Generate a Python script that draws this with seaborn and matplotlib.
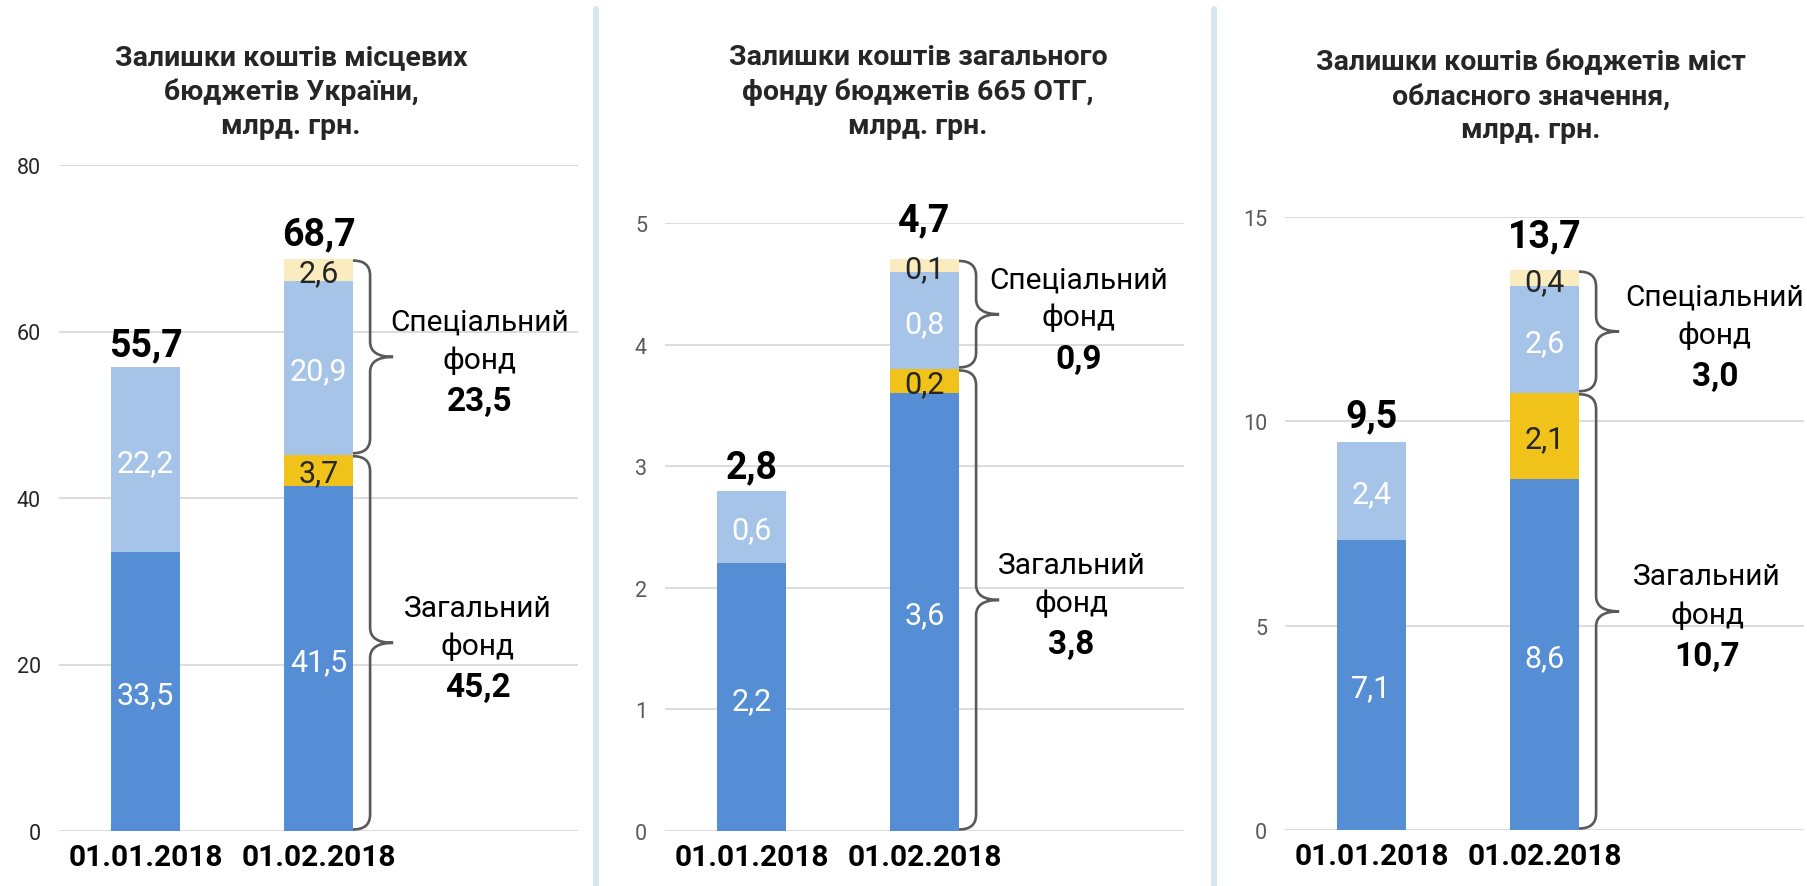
import matplotlib
matplotlib.use("Agg")
import matplotlib.pyplot as plt
import numpy as np
import seaborn as sns
from matplotlib.lines import Line2D
from matplotlib.patches import PathPatch
from matplotlib.path import Path

# Data (bln UAH); stack order bottom -> top:
# general fund, general fund increase, special fund, special fund increase
DATES = ["01.01.2018", "01.02.2018"]

TITLES = [
    "Залишки коштів місцевих\nбюджетів України,\nмлрд. грн.",
    "Залишки коштів загального\nфонду бюджетів 665 ОТГ,\nмлрд. грн.",
    "Залишки коштів бюджетів міст\nобласного значення,\nмлрд. грн.",
]

UA_GENERAL = [33.5, 41.5]
UA_GENERAL_UP = [0.0, 3.7]
UA_SPECIAL = [22.2, 20.9]
UA_SPECIAL_UP = [0.0, 2.6]
UA_TOTALS = [55.7, 68.7]
UA_FUNDS = [23.5, 45.2]  # special, general on 01.02

OTG_GENERAL = [2.2, 3.6]
OTG_GENERAL_UP = [0.0, 0.2]
OTG_SPECIAL = [0.6, 0.8]
OTG_SPECIAL_UP = [0.0, 0.1]
OTG_TOTALS = [2.8, 4.7]
OTG_FUNDS = [0.9, 3.8]

CITY_GENERAL = [7.1, 8.6]
CITY_GENERAL_UP = [0.0, 2.1]
CITY_SPECIAL = [2.4, 2.6]
CITY_SPECIAL_UP = [0.0, 0.4]
CITY_TOTALS = [9.5, 13.7]
CITY_FUNDS = [3.0, 10.7]

Y_TICKS = [[0, 20, 40, 60, 80], [0, 1, 2, 3, 4, 5], [0, 5, 10, 15]]

# Style
W, H = 1808, 887
SEG_COLORS = ["#558ED5", "#F0C21A", "#A6C4E8", "#FAECBF"]
SEG_TEXT = ["white", "#262626", "white", "#262626"]
GRID = "#D9D9D9"
BRACE = "#595959"
SEP = "#D5E6EE"
FONT = ["Roboto", "DejaVu Sans"]

# axes boxes in pixels: left, zero-line y, top-tick y
PANELS = [
    dict(left=59, y0=832, ytop=166, tick_color="#262626", title_x=291, title_y=92,
         text_x=(1.93, 1.92), total_off=(26, 29)),
    dict(left=665, y0=832, ytop=224, tick_color="#595959", title_x=918, title_y=92,
         text_x=(1.89, 1.85), total_off=(28, 44)),
    dict(left=1285, y0=831, ytop=218, tick_color="#595959", title_x=1531, title_y=97,
         text_x=(1.985, 1.94), total_off=(30, 38)),
]
AX_W = 519


def fmt(v):
    return f"{v:.1f}".replace(".", ",")


def draw_brace(ax, x0, y0, y1, px_x, px_y):
    """Curly brace '}' starting at x0 between y0 and y1 (data units)."""
    stem = x0 + 17 / px_x
    tip = x0 + 40 / px_x
    r = 15 / px_y
    y0 += 1.5 / px_y
    y1 -= 1.5 / px_y
    ym = (y0 + y1) / 2
    verts = [(x0, y0), (stem, y0), (stem, y0 + r),
             (stem, ym - r), (stem, ym), (tip, ym),
             (stem, ym), (stem, ym + r),
             (stem, y1 - r), (stem, y1), (x0, y1)]
    codes = [Path.MOVETO, Path.CURVE3, Path.CURVE3,
             Path.LINETO, Path.CURVE3, Path.CURVE3,
             Path.CURVE3, Path.CURVE3,
             Path.LINETO, Path.CURVE3, Path.CURVE3]
    ax.add_patch(PathPatch(Path(verts, codes), facecolor="none", edgecolor=BRACE,
                           lw=1.9, capstyle="round", clip_on=False))


def draw_panel(fig, spec, title, segments, totals, funds, yticks):
    left, y0, ytop = spec["left"], spec["y0"], spec["ytop"]
    ax = fig.add_axes([left / W, (H - y0) / H, AX_W / W, (y0 - ytop) / H])
    ymax = yticks[-1]

    levels = np.cumsum(np.array(segments), axis=0)
    # draw cumulative heights from the top segment down so each covers the one below
    for k in range(len(segments) - 1, -1, -1):
        sns.barplot(x=DATES, y=levels[k], color=SEG_COLORS[k], saturation=1,
                    width=0.4, errorbar=None, linewidth=0, ax=ax, zorder=2)

    ax.set_xlim(-0.5, 2.5)
    ax.set_ylim(0, ymax)
    px_x = AX_W / 3
    px_y = (y0 - ytop) / ymax

    # segment labels
    for k, seg in enumerate(segments):
        for i, v in enumerate(seg):
            if v > 0:
                ax.text(i, levels[k][i] - v / 2, fmt(v), ha="center", va="center_baseline",
                        color=SEG_TEXT[k], fontsize=22, zorder=3)

    # totals
    for i, t in enumerate(totals):
        ax.annotate(fmt(t), (i, levels[-1][i]), xytext=(0, spec["total_off"][i] * 0.72),
                    textcoords="offset points", ha="center", va="center_baseline",
                    fontsize=27, fontweight="bold", color="black")

    # braces for the second date
    bar_right = 1 + 0.2
    split = levels[1][1]
    top = levels[-1][1]
    draw_brace(ax, bar_right, split, top, px_x, px_y)
    draw_brace(ax, bar_right, 0, split, px_x, px_y)

    names = ["Спеціальний", "Загальний"]
    mids = [(split + top) / 2, split / 2]
    for j in range(2):
        x = spec["text_x"][j]
        ax.annotate(names[j], (x, mids[j]), xytext=(0, 38 * 0.72), textcoords="offset points",
                    ha="center", va="center_baseline", fontsize=21.5, color="black")
        ax.annotate("фонд", (x, mids[j]), xytext=(0, 0), textcoords="offset points",
                    ha="center", va="center_baseline", fontsize=21.5, color="black")
        ax.annotate(fmt(funds[j]), (x, mids[j]), xytext=(0, -41 * 0.72), textcoords="offset points",
                    ha="center", va="center_baseline", fontsize=24, fontweight="bold",
                    color="black")

    # axes styling
    ax.set_yticks(yticks)
    ax.set_yticklabels([str(t) for t in yticks], fontsize=15.5, color=spec["tick_color"])
    ax.set_xticks([0, 1])
    ax.set_xticklabels(DATES, fontsize=21.5, fontweight="bold", color="black")
    ax.tick_params(axis="y", length=0, pad=13)
    ax.tick_params(axis="x", length=0, pad=9)
    ax.set_xlabel("")
    ax.set_ylabel("")
    ax.grid(axis="y", color=GRID, lw=1.3, zorder=0)
    ax.grid(axis="x", visible=False)
    ax.set_axisbelow(True)
    sns.despine(ax=ax, left=True, bottom=True)

    fig.text(spec["title_x"] / W, 1 - spec["title_y"] / H, title, ha="center", va="center",
             ma="center", fontsize=20.5, fontweight="bold", linespacing=1.33)


sns.set_style("white")
plt.rcParams["font.family"] = FONT

fig = plt.figure(figsize=(W / 100, H / 100), dpi=100)
fig.patch.set_facecolor("white")

all_segments = [
    [UA_GENERAL, UA_GENERAL_UP, UA_SPECIAL, UA_SPECIAL_UP],
    [OTG_GENERAL, OTG_GENERAL_UP, OTG_SPECIAL, OTG_SPECIAL_UP],
    [CITY_GENERAL, CITY_GENERAL_UP, CITY_SPECIAL, CITY_SPECIAL_UP],
]
all_totals = [UA_TOTALS, OTG_TOTALS, CITY_TOTALS]
all_funds = [UA_FUNDS, OTG_FUNDS, CITY_FUNDS]

for n in range(3):
    draw_panel(fig, PANELS[n], TITLES[n], all_segments[n], all_totals[n], all_funds[n], Y_TICKS[n])

# light separators between the panels
for xs in (596, 1214):
    fig.add_artist(Line2D([xs / W, xs / W], [0, 1 - 10 / H], transform=fig.transFigure,
                          color=SEP, lw=4.3))

fig.savefig("out.png", dpi=100, facecolor="white")
